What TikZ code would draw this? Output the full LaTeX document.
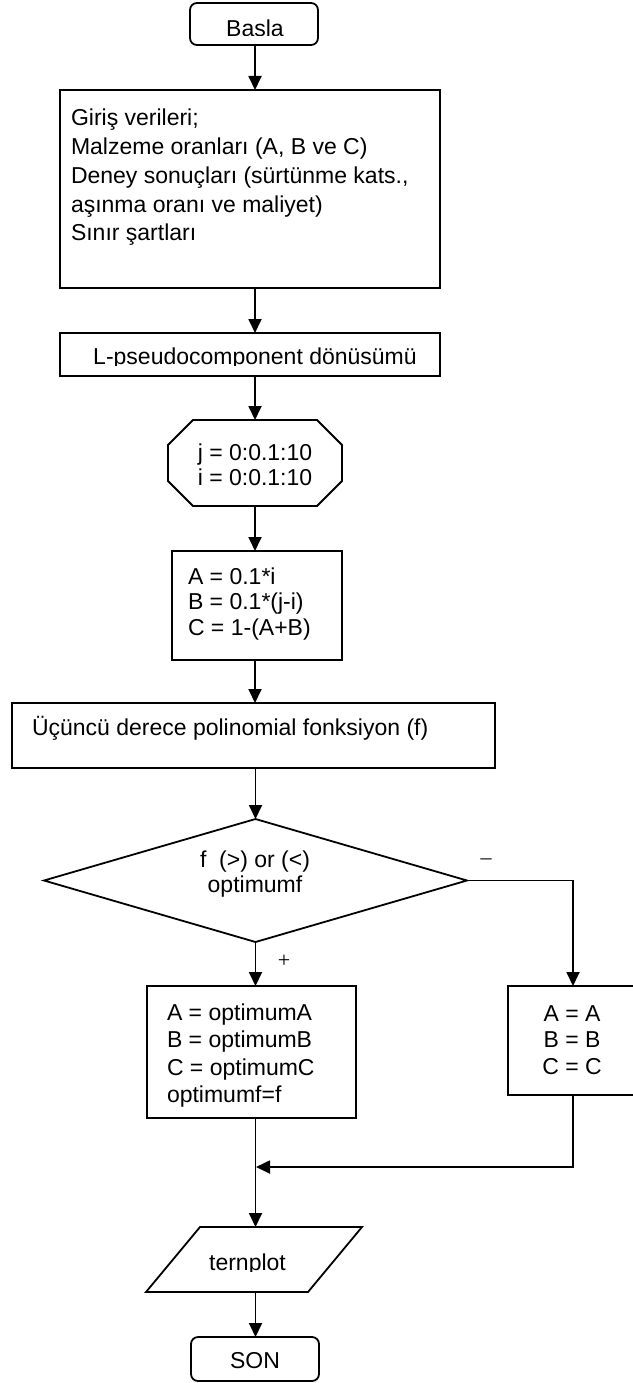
\documentclass[tikz,border=0pt]{standalone}
\usepackage{fontspec}
\setmainfont{Liberation Sans}
\newfontfamily\signfont{Liberation Serif}
\usetikzlibrary{arrows.meta,shapes.geometric}

\begin{document}
\begin{tikzpicture}[x=1pt,y=-1pt,
  line width=1.8pt,
  every node/.style={font=\fontsize{23}{25}\selectfont, inner sep=0pt, outer sep=0pt},
  blk/.style 2 args={draw, rectangle, minimum width=#1, minimum height=#2},
  ghost/.style 2 args={rectangle, minimum width=#1, minimum height=#2},
  flow/.style={-{Triangle[length=14pt,width=13pt]}},
  sign/.style={font=\signfont\fontsize{22}{22}\selectfont}]

% page frame
\path[use as bounding box] (0,0) rectangle (632,1383);

% shapes
\node[blk={128}{42}, rounded corners=7pt] (start) at (254,24) {};
\node[blk={380}{198}] (input) at (250,189) {};
\node[blk={380}{43}] (pseudo) at (250,354.5) {};
\node[ghost={174}{86}] (loop) at (255,463) {};
\draw ([xshift=25pt]loop.north west) -- ([xshift=-25pt]loop.north east)
   -- ([yshift=-25pt]loop.north east) -- ([yshift=25pt]loop.south east)
   -- ([xshift=-25pt]loop.south east) -- ([xshift=25pt]loop.south west)
   -- ([yshift=25pt]loop.south west) -- ([yshift=-25pt]loop.north west) -- cycle;
\node[blk={170}{109}] (calc) at (257,605.5) {};
\node[blk={483}{65}] (poly) at (253.5,735.5) {};
\node[draw, diamond, minimum width=423, minimum height=123] (test) at (255.5,880.5) {};
\node[blk={209}{132}] (yes) at (251.5,1052) {};
\node[blk={130}{109}] (no) at (573,1040.5) {};
\node[ghost={162}{65}] (out) at (254,1259.5) {};
\draw ([xshift=27pt]out.north west) -- ([xshift=27pt]out.north east)
   -- ([xshift=-27pt]out.south east) -- ([xshift=-27pt]out.south west) -- cycle;
\node[blk={128}{44}, rounded corners=7pt] (stop) at (255,1359) {};

% texts
\begin{scope}
  \clip (start.north west) rectangle (319,35.5);
  \node[anchor=base] (start-t) at (255,36.7) {Basla};
\end{scope}
\foreach \txt [count=\k] in {{Giriş verileri;}, {Malzeme oranları (A, B ve C)},
    {Deney sonuçları (sürtünme kats.,}, {aşınma oranı ve maliyet)}, {Sınır şartları}}
  \node[anchor=base west] (input-\k) at (71,{126+28.7*(\k-1)}) {\txt};
\begin{scope}
  \clip (pseudo.north west) rectangle (440,365);
  \node[anchor=base] (pseudo-t) at (255,364.5) {L-pseudocomponent dönüsümü};
\end{scope}
\node[anchor=base] (loop-1) at (255,460) {j = 0:0.1:10};
\node[anchor=base] (loop-2) at (255,485) {i = 0:0.1:10};
\node[anchor=base west] (calc-1) at (188,584) {A = 0.1*i};
\node[anchor=base west] (calc-2) at (188,609.5) {B = 0.1*(j-i)};
\node[anchor=base west] (calc-3) at (188,635) {C = 1-(A+B)};
\node[anchor=base west] (poly-t) at (32,735) {Üçüncü derece polinomial fonksiyon (f)};
\node[anchor=base] (test-1) at (255,867) {f\ \ (>) or (<)};
\node[anchor=base] (test-2) at (255,892) {optimumf};
\node[anchor=base west] (yes-1) at (167,1020) {A = optimumA};
\node[anchor=base west] (yes-2) at (167,1047) {B = optimumB};
\node[anchor=base west] (yes-3) at (167,1075) {C = optimumC};
\node[anchor=base west] (yes-4) at (167,1102) {optimumf=f};
\node[anchor=base] (no-1) at (572,1021) {A = A};
\node[anchor=base] (no-2) at (572,1047) {B = B};
\node[anchor=base] (no-3) at (572,1074) {C = C};
\begin{scope}
  \clip (out.north west) rectangle (362,1271);
  \node[anchor=base] (out-t) at (247.5,1270) {ternplot};
\end{scope}
\node[anchor=base] (stop-t) at (255,1368) {SON};
\node[sign] (minus) at (486,862) {–};
\node[sign] (plus) at (284,961) {+};

% connectors
\coordinate (join) at (256,1167);
\draw[flow] (start.south -| 255,0) -- (input.north -| 255,0);
\draw[flow] (input.south -| 255,0) -- (pseudo.north -| 255,0);
\draw[flow] (pseudo.south -| 255,0) -- (loop.north -| 255,0);
\draw[flow] (loop.south -| 255,0) -- (calc.north -| 255,0);
\draw[flow] (calc.south -| 255,0) -- (poly.north -| 255,0);
\draw[flow] (poly.south -| 255.5,0) -- (test.north);
\draw[flow] (test.south) -- (test.south |- yes.north);
\draw[flow] (test.east) -| (no.north);
\draw (test.south |- yes.south) -- (test.south |- join);
\draw[flow] (no.south) |- (join);
\draw[flow] (test.south |- join) -- (test.south |- out.north);
\draw[flow] (test.south |- out.south) -- (test.south |- stop.north);
\end{tikzpicture}
\end{document}
